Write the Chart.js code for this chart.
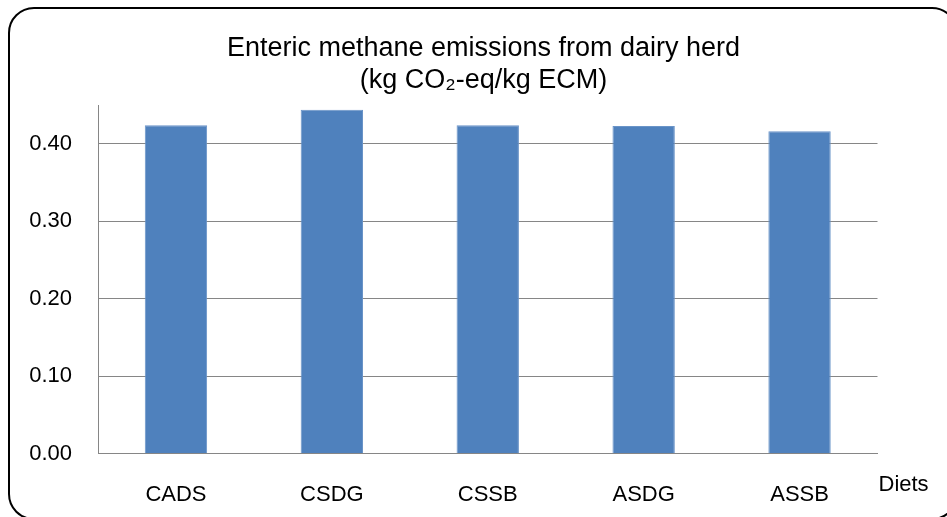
<!DOCTYPE html>
<html>
<head>
<meta charset="utf-8">
<script src="https://cdn.jsdelivr.net/npm/chart.js@4"></script>
<style>
  html, body { margin: 0; padding: 0; background: #ffffff; }
  #wrap { width: 947px; height: 517px; position: relative; }
</style>
</head>
<body>
<div id="wrap"><canvas id="c" width="947" height="517"></canvas></div>
<script>
const categories = ['CADS', 'CSDG', 'CSSB', 'ASDG', 'ASSB'];
const emissions = [0.424, 0.444, 0.424, 0.423, 0.416];
const yTickValues = [0, 0.1, 0.2, 0.3, 0.4];
const titleLines = ['Enteric methane emissions from dairy herd', '(kg CO\u2082-eq/kg ECM)'];
const xAxisTitle = 'Diets';

const FONT = "'Liberation Sans', Arial, sans-serif";

const framePlugin = {
  id: 'frame',
  beforeDraw(chart) {
    const ctx = chart.ctx;
    ctx.save();
    ctx.fillStyle = '#ffffff';
    ctx.fillRect(0, 0, chart.width, chart.height);
    ctx.beginPath();
    ctx.roundRect(9, 8, 948, 511, 25);
    ctx.lineWidth = 2;
    ctx.strokeStyle = '#000000';
    ctx.stroke();
    ctx.restore();
  },
  afterDraw(chart) {
    const ctx = chart.ctx;
    const area = chart.chartArea;
    ctx.save();
    ctx.font = '22px ' + FONT;
    ctx.fillStyle = '#000000';
    ctx.textAlign = 'left';
    ctx.textBaseline = 'middle';
    ctx.fillText(xAxisTitle, area.right + 1, 485);
    ctx.restore();
  }
};

new Chart(document.getElementById('c'), {
  type: 'bar',
  data: {
    labels: categories,
    datasets: [{
      data: emissions,
      yAxisID: 'y',
      backgroundColor: '#4F81BD',
      borderColor: '#6A94C8',
      borderWidth: 1,
      barPercentage: 0.4,
      categoryPercentage: 1.0
    }]
  },
  options: {
    responsive: false,
    animation: false,
    devicePixelRatio: 1,
    layout: { padding: { left: 20, right: 0, top: 0, bottom: 0 } },
    plugins: {
      legend: { display: false },
      tooltip: { enabled: false },
      title: {
        display: true,
        text: titleLines,
        color: '#000000',
        font: { family: FONT, size: 27, weight: 'normal', lineHeight: 32 / 27 },
        padding: { top: 33, bottom: 8 }
      }
    },
    scales: {
      x: {
        grid: { display: false, drawTicks: false },
        border: { display: true, color: '#868686', width: 1 },
        ticks: {
          color: '#000000',
          font: { family: FONT, size: 22 },
          padding: 28,
          maxRotation: 0
        },
        afterFit(scale) { scale.height = 63.5; }
      },
      y: {
        position: 'left',
        min: 0,
        max: 0.45,
        grid: { color: '#868686', lineWidth: 1, drawTicks: false },
        border: { display: true, color: '#868686', width: 1 },
        ticks: {
          stepSize: 0.1,
          color: '#000000',
          font: { family: FONT, size: 22 },
          padding: 26,
          callback: (v) => Number(v).toFixed(2)
        },
        afterBuildTicks(scale) {
          scale.ticks = yTickValues.map(v => ({ value: v }));
        },
        afterFit(scale) { scale.width = 78; }
      },
      yRightSpace: {
        position: 'right',
        display: true,
        min: 0,
        max: 0.45,
        grid: { display: false, drawTicks: false },
        border: { display: false },
        ticks: { display: false },
        afterFit(scale) { scale.width = 69.5; }
      }
    }
  },
  plugins: [framePlugin]
});
</script>
</body>
</html>
